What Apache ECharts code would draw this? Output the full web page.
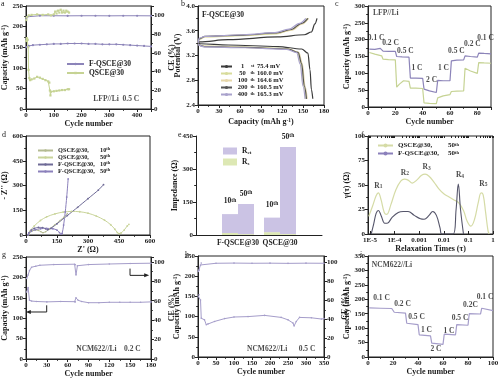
<!DOCTYPE html>
<html><head><meta charset="utf-8">
<script src="https://cdn.jsdelivr.net/npm/echarts@6/dist/echarts.min.js"></script>
<style>html,body{margin:0;padding:0;background:#fff}#c{width:500px;height:381px}</style>
</head><body><div id="c"></div><script>
// ---------- DATA ----------
// a: LFP//Li 0.5C cycling
const A_F_CAP=[[1,150],[10,153],[25,155],[50,156],[75,157],[100,158],[125,158],[150,159],[175,159],[200,159],[225,158],[250,158],[275,157],[300,157],[325,157],[350,156],[375,155],[400,154],[425,153],[450,152]];
const A_F_CE=[[1,96],[5,98.5],[10,99.3],[50,99.6],[100,99.6],[150,99.5],[200,99.6],[250,99.6],[300,99.5],[350,99.6],[400,99.6],[450,99.5]];
const A_Q_CAP=[[1,165],[3,172],[6,168],[8,150],[9,95],[12,75],[15,70],[20,72],[30,74],[40,78],[50,76],[60,73],[70,70],[80,67],[84,64],[86,45],[88,33],[90,42],[100,43],[110,44],[120,45],[130,46],[140,46],[150,48],[155,48]];
const A_Q_CE=[[1,95],[3,98],[10,100],[20,100.5],[40,101],[60,100.5],[80,101],[90,100],[100,101],[105,104],[110,102],[115,105],[120,103],[125,106],[130,103],[135,105],[140,103],[145,105],[150,104],[155,103]];
// b: charge / discharge curves [capacity, potential]
const B_NAMES=['1st','50th','100th','200th','400th'];
const B_MV=['75.4 mV','160.0 mV','164.6 mV','160.5 mV','165.3 mV'];
const B_CH_1=[[0,3.38],[2,3.42],[43,3.455],[114,3.50],[152,3.535],[162,3.58],[167,3.71],[170,3.80]];
const B_CH_50=[[0,3.40],[2,3.46],[10,3.50],[65,3.52],[112,3.55],[132,3.61],[147,3.71],[156,3.80]];
const B_CH_100=[[0,3.40],[2,3.47],[10,3.505],[65,3.53],[112,3.56],[134,3.61],[149,3.71],[158,3.80]];
const B_CH_200=[[0,3.40],[2,3.47],[10,3.51],[65,3.53],[112,3.565],[133,3.62],[148,3.72],[157,3.80]];
const B_CH_400=[[0,3.40],[2,3.48],[10,3.51],[65,3.535],[110,3.57],[130,3.625],[145,3.72],[154,3.80]];
const B_DC_1=[[0,3.41],[3,3.39],[43,3.37],[114,3.345],[148,3.305],[157,3.24],[160,2.97],[162,2.65],[164,2.5]];
const B_DC_50=[[0,3.38],[9,3.35],[67,3.335],[128,3.31],[142,3.256],[147,3.07],[151,2.70],[154,2.5]];
const B_DC_100=[[0,3.38],[9,3.35],[67,3.33],[130,3.305],[144,3.25],[149,3.07],[153,2.70],[156,2.5]];
const B_DC_200=[[0,3.38],[9,3.345],[67,3.33],[129,3.305],[143,3.25],[148,3.07],[152,2.70],[155,2.5]];
const B_DC_400=[[0,3.38],[9,3.34],[67,3.325],[127,3.30],[141,3.245],[146,3.06],[150,2.70],[153,2.5]];
// c: LFP//Li rate
const C_F=[[1,172],[5,171],[9,174],[10,175],[11,166],[15,165],[20,165],[21,150],[25,149],[30,148],[31,86],[35,86],[40,85],[41,53],[45,48],[50,43],[51,79],[55,78],[60,78],[61,137],[65,139],[70,140],[71,152],[75,150],[80,148],[81,160],[85,159],[90,158]];
const C_Q=[[1,162],[5,157],[10,152],[11,142],[15,141],[20,140],[21,59],[23,68],[26,78],[30,76],[31,56],[35,56],[40,55],[41,12],[45,11],[50,10],[51,27],[55,33],[60,37],[61,46],[65,47],[70,48],[71,115],[75,107],[80,100],[81,132],[85,131],[90,130]];
const C_NOTES=[[6,205,'0.1 C'],[16.5,190,'0.2 C'],[27.4,166,'0.5 C'],[35.8,116,'1 C'],[46.5,80,'2 C'],[55.2,116,'1 C'],[64.7,166,'0.5 C'],[76.4,187,'0.2 C'],[86,205,'0.1 C'],[13,279,'LFP//Li']];
// d: Nyquist [Z', -Z'']
const D_Q10=[[10,2],[18,15],[30,25],[45,30],[60,28],[72,20],[82,14],[95,20],[115,38],[140,62],[165,88],[185,110],[200,130]];
const D_Q50=[[12,2],[20,25],[40,55],[70,88],[100,110],[140,128],[180,139],[220,143],[260,141],[300,132],[340,115],[380,90],[410,62],[430,35],[442,15],[450,8],[460,12],[475,30],[490,55],[498,65]];
const D_F10=[[10,2],[15,15],[25,30],[40,40],[60,46],[80,45],[95,38],[105,32],[120,40],[150,68],[200,118],[250,168],[300,220],[350,272],[375,305]];
const D_F50=[[10,2],[14,12],[25,22],[45,32],[70,38],[100,40],[130,38],[150,30],[162,15],[170,5],[175,10],[182,60],[190,140],[197,230],[204,340]];
// e: impedance bars
const E_CATS=['','F-QSCE@30','QSCE@30',''];
const E_RS10=['-',9,13,'-'], E_RCT10=['-',86,66,'-'];
const E_RS50=['-',4,4,'-'], E_RCT50=['-',137,396,'-'];
// f: DRT [log10(tau), gamma]
const F_Q50=[[-5.05,18],[-4.9,28],[-4.75,39],[-4.66,42],[-4.55,35],[-4.42,22],[-4.32,20],[-4.15,30],[-3.95,45],[-3.75,54],[-3.6,56],[-3.45,55],[-3.28,52],[-3.1,55],[-2.9,60],[-2.76,61],[-2.6,59],[-2.4,53],[-2.2,46],[-2.0,41],[-1.8,38],[-1.6,35],[-1.4,32],[-1.2,24],[-1.05,13],[-0.9,8],[-0.75,15],[-0.6,32],[-0.48,42],[-0.4,40],[-0.3,22],[-0.2,3],[-0.15,0]];
const F_F50=[[-4.95,0],[-4.85,10],[-4.75,21],[-4.66,24],[-4.55,19],[-4.4,11],[-4.3,11],[-4.1,17],[-3.85,22],[-3.65,23],[-3.45,23],[-3.2,19],[-2.95,15.5],[-2.8,15],[-2.6,19],[-2.45,23],[-2.3,19],[-2.15,6],[-2.08,0],[-1.62,0],[-1.5,25],[-1.41,51],[-1.32,25],[-1.2,0]];
const F_TICKS=[-5,-4,-3,-2,-1,0];
const F_TICK_TEXT=['1E-5','1E-4','0.001','0.01','0.1','1'];
const F_PEAKS=[[-4.66,49,'R{sub|1}'],[-3.58,62.5,'R{sub|2}'],[-2.7,68,'R{sub|3}'],[-1.34,60,'R{sub|4}'],[-0.39,51,'R{sub|5}']];
// g: NCM622//Li 0.2C
const G_CAP=[[1,164],[3,175],[5,144],[8,142],[15,141],[30,140],[50,141],[70,140.5],[71,140],[72,150],[75,144],[80,141],[90,138],[105,138],[120,139],[135,139],[150,139],[165,139],[180,140]];
const G_CE=[[1,83],[3,86.5],[5,91],[8,94.5],[14,95.5],[20,96.5],[40,97.2],[70,97.6],[71,97],[72,86.5],[74,96],[90,97.2],[120,97.8],[150,98.3],[180,98.6]];
const G_ARROW_L=[[29.8,131.6],[29.8,115.2],[3.3,115.2]];
const G_ARROW_R=[[149.8,221.6],[149.8,205],[173.8,205]];
// h: NCM622//Li 0.5C
const H_CAP=[[1,150],[3,154],[7,141],[9,96],[18,92],[23,80],[28,82],[46,88],[74,95],[100,99],[139,100],[185,103],[231,98],[250,92],[264,84],[267,77],[273,88],[282,98],[315,97],[343,94],[350,95]];
const H_CE=[[1,90.5],[3,92],[7,97.5],[9,99.5],[50,99.3],[100,99.5],[150,99.3],[200,99.4],[250,99.2],[300,99.4],[350,99.3]];
// i: NCM622//Li rate
const I_CAP=[[1,170],[10,169],[19,168],[20,167],[21,155],[30,152],[31,117],[40,112],[41,77],[50,73],[51,48],[60,44],[61,79],[70,77],[71,112],[80,110],[81,150],[90,149],[91,169],[100,161]];
const I_NOTES=[[10.8,205,'0.1 C'],[27.6,184,'0.2 C'],[38.8,139,'0.5 C'],[46.8,94,'1 C'],[54.4,29,'2 C'],[64.8,91,'1 C'],[73.6,136,'0.5 C'],[82,181,'0.2C'],[93.6,208,'0.1 C'],[19.2,319,'NCM622//Li']];

// ---------- STYLE ----------
const FONT='Liberation Serif', INK='#1a1a1a';
const PURPLE='#8c84b9', GREEN='#c6d394', LAV='#a59dca';
const RICH={
  sup:{fontFamily:FONT,fontWeight:'bold',fontSize:5.5,color:INK,verticalAlign:'top'},
  sub:{fontFamily:FONT,fontWeight:'bold',fontSize:5.5,color:INK,verticalAlign:'bottom'}
};
function merge(a,b){const r=Object.assign({},a);for(const k in b){const v=b[k];if(v&&typeof v==='object'&&!Array.isArray(v)&&a[k]&&typeof a[k]==='object'&&!Array.isArray(a[k]))r[k]=merge(a[k],v);else r[k]=v;}return r;}
const LINE={color:'#222',width:1};
const BASE={
  type:'value',axisLine:{show:true,onZero:false,lineStyle:LINE},
  axisTick:{show:true,length:3,lineStyle:LINE},
  minorTick:{show:true,splitNumber:2,length:1.8,lineStyle:LINE},
  axisLabel:{fontFamily:FONT,fontWeight:'bold',fontSize:7,color:INK,margin:3},
  splitLine:{show:false},nameLocation:'middle',
  nameTextStyle:{fontFamily:FONT,fontWeight:'bold',fontSize:8,color:INK,rich:RICH}
};
const ax=o=>merge(BASE,o);
const mult=(s,d)=>v=>(Math.abs(v/s-Math.round(v/s))<1e-6?v.toFixed(d||0):'');
const CAPNAME='Capacity (mAh g{sup|-1})';

const GRIDS=[[26,6,125,103,true],[198,6,126,99,true],[368,6,123,101,true],[26,136,124,99,true],[196,136,126,99,false],[368,136,125,98,true],[26,257,125,102,true],[198,256,126,101,true],[368,256,125,101,true]];

const fMinor=[];for(let d=-6;d<0;d++)for(let k=2;k<10;k++){const v=d+Math.log10(k);if(v>-5.08&&v<0)fMinor.push(v);}

const xAxis=[
  ax({gridIndex:0,min:0,max:450,interval:100,name:'Cycle number',nameGap:11,axisLabel:{formatter:mult(100)}}),
  ax({gridIndex:1,min:0,max:180,interval:30,name:CAPNAME,nameGap:13}),
  ax({gridIndex:2,min:0,max:90,interval:20,name:'Cycle number',nameGap:9,axisLabel:{formatter:mult(20)}}),
  ax({gridIndex:3,min:0,max:600,interval:150,name:"Z' (Ω)",nameGap:11}),
  ax({gridIndex:4,type:'category',data:E_CATS,boundaryGap:false,axisTick:{show:false},minorTick:{show:false},axisLabel:{interval:0,margin:4,fontSize:7.5}}),
  ax({gridIndex:5,min:-5.08,max:0,name:'Relaxation Times (τ)',nameGap:11,axisTick:{inside:true,customValues:F_TICKS},minorTick:{show:false},
      axisLabel:{customValues:F_TICKS,formatter:v=>F_TICK_TEXT[F_TICKS.indexOf(Math.round(v))]}}),
  ax({gridIndex:5,min:-5.08,max:0,axisLine:{show:false},axisTick:{inside:true,length:2,customValues:fMinor},minorTick:{show:false},axisLabel:{show:false}}),
  ax({gridIndex:5,position:'top',min:-5.08,max:0,axisLine:{show:false},axisTick:{inside:true,length:2,customValues:fMinor.concat(F_TICKS)},minorTick:{show:false},axisLabel:{show:false}}),
  ax({gridIndex:6,min:0,max:180,interval:30,name:'Cycle number',nameGap:11}),
  ax({gridIndex:7,min:0,max:350,interval:50,name:'Cycle number',nameGap:11}),
  ax({gridIndex:8,min:0,max:100,interval:20,name:'Cycle number',nameGap:11})
];
const yAxis=[
  ax({gridIndex:0,min:0,max:250,interval:50,name:CAPNAME,nameGap:12}),
  ax({gridIndex:0,position:'right',min:0,max:110,interval:20,name:'CE (%)',nameGap:11,axisLabel:{formatter:mult(20)}}),
  ax({gridIndex:1,min:2.4,max:4.0,interval:0.4,name:'Potential (V)',nameGap:14,axisLabel:{formatter:v=>v.toFixed(1)}}),
  ax({gridIndex:2,min:0,max:300,interval:50,name:CAPNAME,nameGap:16}),
  ax({gridIndex:3,min:0,max:600,interval:150,name:"- Z'' (Ω)",nameGap:13}),
  ax({gridIndex:4,min:0,max:450,interval:150,name:'Impedance (Ω)',nameGap:13}),
  ax({gridIndex:5,min:0,max:100,interval:25,name:'γ(τ) (Ω)',nameGap:11}),
  ax({gridIndex:6,min:0,max:250,interval:50,name:CAPNAME,nameGap:13}),
  ax({gridIndex:6,position:'right',min:0,max:105,interval:20,name:'CE (%)',nameGap:11,axisLabel:{formatter:mult(20)}}),
  ax({gridIndex:7,min:0,max:250,interval:50,name:CAPNAME,nameGap:13}),
  ax({gridIndex:7,position:'right',min:0,max:107,interval:20,name:'CE (%)',nameGap:7,axisLabel:{formatter:mult(20)}}),
  ax({gridIndex:8,min:0,max:350,interval:50,name:CAPNAME,nameGap:15})
];

function line(name,xi,yi,data,color,o){return merge({type:'line',name,xAxisIndex:xi,yAxisIndex:yi,data,showSymbol:false,symbol:'none',lineStyle:{color,width:1},itemStyle:{color},z:3},o||{});}
function notes(xi,yi,arr,fs){return {type:'scatter',xAxisIndex:xi,yAxisIndex:yi,symbolSize:0,silent:true,z:6,
  data:arr.map(n=>({value:[n[0],n[1]],label:{show:true,formatter:n[2],position:'inside',fontFamily:FONT,fontWeight:'bold',fontSize:fs||7.5,color:INK,rich:RICH}}))};}
function arrow(xi,yi,pts,rot,color){return {type:'line',xAxisIndex:xi,yAxisIndex:yi,silent:true,z:4,lineStyle:{color,width:1},itemStyle:{color},
  data:pts.map((p,k)=>k===pts.length-1?{value:p,symbol:'triangle',symbolSize:[4,5],symbolRotate:rot}:{value:p,symbol:'none'})};}

const B_COL=['#3b3b3b','#d8dc9c','#e6d7aa','#555555','#a9a2cc'];
const B_CH=[B_CH_1,B_CH_50,B_CH_100,B_CH_200,B_CH_400];
const B_DC=[B_DC_1,B_DC_50,B_DC_100,B_DC_200,B_DC_400];

const series=[
  // a
  line('F-QSCE@30',0,0,A_F_CAP,PURPLE,{showSymbol:true,symbol:'circle',symbolSize:2.2}),
  line('F CE a',0,1,A_F_CE,PURPLE,{showSymbol:true,symbol:'circle',symbolSize:2.2}),
  line('QSCE@30',0,0,A_Q_CAP,GREEN,{showSymbol:true,symbol:'rect',symbolSize:2.2}),
  line('Q CE a',0,1,A_Q_CE,GREEN,{showSymbol:true,symbol:'rect',symbolSize:2.2}),
  notes(0,0,[[325,24,'LFP//Li  0.5 C']],7.5),
  // c
  line('F rate c',2,3,C_F,PURPLE,{lineStyle:{width:1.2}}),
  line('Q rate c',2,3,C_Q,GREEN,{lineStyle:{width:1.2}}),
  notes(2,3,C_NOTES,7.5),
  // d
  line('QSCE@30, 10th',3,4,D_Q10,'#b4bb92',{smooth:0.3,showSymbol:true,symbol:'circle',symbolSize:1.6}),
  line('QSCE@30, 50th',3,4,D_Q50,'#c9d49a',{smooth:0.3,showSymbol:true,symbol:'circle',symbolSize:1.8}),
  line('F-QSCE@30, 10th',3,4,D_F10,'#6e6a96',{smooth:0.2,showSymbol:true,symbol:'circle',symbolSize:1.8}),
  line('F-QSCE@30, 50th',3,4,D_F50,'#8b80bb',{smooth:0.3,showSymbol:true,symbol:'circle',symbolSize:1.8}),
  // e
  {type:'bar',name:'Rs',xAxisIndex:4,yAxisIndex:5,stack:'t10',data:E_RS10,barWidth:16,barGap:'0%',itemStyle:{color:'#dde8b4'}},
  {type:'bar',name:'Rct',xAxisIndex:4,yAxisIndex:5,stack:'t10',data:E_RCT10,barWidth:16,barGap:'0%',itemStyle:{color:'#cbc3e4'},
    label:{show:true,position:'top',distance:9,formatter:'10{sup|th}',fontFamily:FONT,fontWeight:'bold',fontSize:7.5,color:INK,rich:RICH}},
  {type:'bar',name:'Rs',xAxisIndex:4,yAxisIndex:5,stack:'t50',data:E_RS50,barWidth:16,barGap:'0%',itemStyle:{color:'#dde8b4'}},
  {type:'bar',name:'Rct',xAxisIndex:4,yAxisIndex:5,stack:'t50',data:E_RCT50,barWidth:16,barGap:'0%',itemStyle:{color:'#cbc3e4'},
    label:{show:true,position:'top',distance:6,formatter:'50{sup|th}',fontFamily:FONT,fontWeight:'bold',fontSize:7.5,color:INK,rich:RICH}},
  // f
  line('QSCE@30,  50th',5,6,F_Q50,'#d5dba6',{smooth:0.4,lineStyle:{width:1.2}}),
  line('F-QSCE@30, 50th',5,6,F_F50,'#55556a',{smooth:0.4,lineStyle:{width:1.1}}),
  notes(5,6,F_PEAKS,7.5),
  // g
  line('g cap',8,7,G_CAP,LAV,{showSymbol:true,symbol:'circle',symbolSize:1.6}),
  line('g ce',8,8,G_CE,LAV,{showSymbol:true,symbol:'circle',symbolSize:1.6}),
  arrow(8,7,G_ARROW_L,90,'#222'),
  arrow(8,7,G_ARROW_R,-90,'#222'),
  notes(8,7,[[118.8,23.8,'NCM622//Li    0.2 C']],7.5),
  // h
  line('h cap',9,9,H_CAP,LAV,{showSymbol:true,symbol:'circle',symbolSize:1.6}),
  line('h ce',9,10,H_CE,LAV,{showSymbol:true,symbol:'circle',symbolSize:1.6}),
  notes(9,9,[[231,19.8,'NCM622//Li      0.5 C']],7.5),
  // i
  line('i cap',10,11,I_CAP,LAV,{lineStyle:{width:1.2}}),
  notes(10,11,I_NOTES,7.5)
];
B_NAMES.forEach((n,k)=>{
  series.push(line(n,1,2,B_CH[k],B_COL[k],{smooth:0.35,smoothMonotone:'x',lineStyle:{width:1.2}}));
  series.push(line(n,1,2,B_DC[k],B_COL[k],{smooth:0.35,smoothMonotone:'x',lineStyle:{width:1.2}}));
});

const LTXT={fontFamily:FONT,fontWeight:'bold',fontSize:7,color:INK};
const legend=[
  {left:61,top:55,orient:'vertical',itemGap:1,itemWidth:17,itemHeight:3,data:['F-QSCE@30','QSCE@30'],textStyle:merge(LTXT,{fontSize:7.5})},
  {left:215,top:58,orient:'vertical',itemGap:0,itemWidth:11,itemHeight:4,data:B_NAMES,
    formatter:n=>{const k=B_NAMES.indexOf(n);const num=n.replace(/\D+$/,'');return `{n|${num}}{s|${n.slice(num.length)}}{v|${B_MV[k]}}`;},
    textStyle:merge(LTXT,{lineHeight:6,rich:{n:merge(LTXT,{width:11,align:'right',fontSize:6.5,lineHeight:6}),s:merge(LTXT,{fontSize:4.5,width:9,verticalAlign:'top',lineHeight:6}),v:merge(LTXT,{fontSize:6.5,lineHeight:6})}})},
  {left:32,top:142,orient:'vertical',itemGap:0,itemWidth:15,itemHeight:3,data:['QSCE@30, 10th','QSCE@30, 50th','F-QSCE@30, 10th','F-QSCE@30, 50th'],
    formatter:n=>{const p=n.split(' ');const num=p[1].replace(/\D+$/,'');return `{n|${p[0]}}{c|${num}}{s|th}`;},
    textStyle:merge(LTXT,{fontSize:6.3,lineHeight:7,rich:{n:merge(LTXT,{width:42,fontSize:6.3}),c:merge(LTXT,{fontSize:6.3}),s:merge(LTXT,{fontSize:4.3,verticalAlign:'top'})}})},
  {left:218,top:142,orient:'vertical',itemGap:3,itemWidth:14,itemHeight:7,icon:'rect',data:['Rct','Rs'],
    formatter:n=>`R{s|${n.slice(1)}}`,textStyle:merge(LTXT,{fontSize:7.5,rich:{s:merge(LTXT,{fontSize:5,verticalAlign:'bottom'})}})},
  {left:372,top:137,orient:'vertical',itemGap:1,itemWidth:15,itemHeight:5,data:['QSCE@30,  50th','F-QSCE@30, 50th'],
    formatter:n=>{const p=n.split(/\s+/);return `{n|${p[0]}}{c|50}{s|th}`;},
    textStyle:merge(LTXT,{rich:{n:merge(LTXT,{width:50,fontSize:7}),c:merge(LTXT,{fontSize:7}),s:merge(LTXT,{fontSize:4.5,verticalAlign:'top'})}})}
];

const LET=[['a',1,0],['b',181,0],['c',335,0],['d',2,131],['e',178,131],['f',361,131],['g',2,251],['h',185,251],['i',360,251]];
const graphic=LET.map(l=>({type:'text',left:l[1],top:l[2],style:{text:l[0],fontFamily:FONT,fontSize:8,fill:INK}}));
graphic.push({type:'text',left:202,top:11,style:{text:'F-QSCE@30',fontFamily:FONT,fontWeight:'bold',fontSize:7.5,fill:INK}});

const chart=echarts.init(document.getElementById('c'),null,{renderer:'canvas'});
chart.setOption({
  animation:false,backgroundColor:'#fff',
  grid:GRIDS.map(g=>({left:g[0],top:g[1],width:g[2],height:g[3],show:g[4],borderColor:'#222',borderWidth:1,backgroundColor:'transparent',containLabel:false,outerBoundsMode:'none'})),
  xAxis,yAxis,legend,series,graphic
});
</script></body></html>
